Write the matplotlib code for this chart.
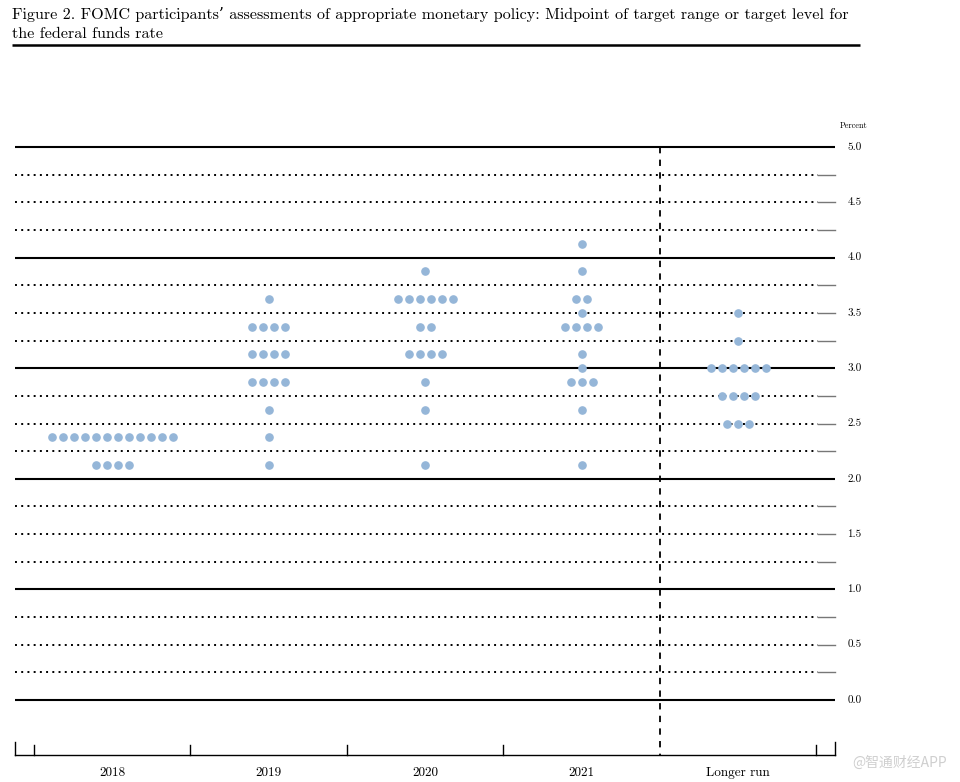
import matplotlib
matplotlib.use("Agg")
import matplotlib.pyplot as plt
import numpy as np

# ---- data ----
categories = ["2018", "2019", "2020", "2021", "Longer run"]
rates_2018 = [2.375] * 12 + [2.125] * 4
rates_2019 = [3.625] + [3.375] * 4 + [3.125] * 4 + [2.875] * 4 + [2.625, 2.375, 2.125]
rates_2020 = [3.875] + [3.625] * 6 + [3.375] * 2 + [3.125] * 4 + [2.875, 2.625, 2.125]
rates_2021 = [4.125, 3.875, 3.625, 3.625, 3.5] + [3.375] * 4 + [3.125, 3.0] + [2.875] * 3 + [2.625, 2.125]
rates_longer = [3.5, 3.25] + [3.0] * 6 + [2.75] * 4 + [2.5] * 3
y_ticks = [0.0, 0.5, 1.0, 1.5, 2.0, 2.5, 3.0, 3.5, 4.0, 4.5, 5.0]
title = ("Figure 2. FOMC participants\u2019 assessments of appropriate monetary policy: "
         "Midpoint of target range or target level for\nthe federal funds rate")

all_rates = [rates_2018, rates_2019, rates_2020, rates_2021, rates_longer]

W, H = 960, 782
fig = plt.figure(figsize=(W / 100, H / 100), dpi=100)
ax = fig.add_axes([0, 0, 1, 1])
ax.set_axis_off()

px_per_cat = 156.5
px_per_pct = 110.6
cat0_px = 112.0
y0_px = 700.0
ax.set_xlim(-cat0_px / px_per_cat, (W - cat0_px) / px_per_cat)
ax.set_ylim(-(H - y0_px) / px_per_pct, y0_px / px_per_pct)

left = -0.62
right = 4.62
line_end = 4.51
serif = ["cmr10", "DejaVu Serif"]

for v in np.arange(0, 5.01, 0.25):
    if abs(v - round(v)) < 1e-9:
        ax.plot([left, right], [v, v], color="black", lw=1.5, solid_capstyle="butt", zorder=1)
    else:
        ax.plot([left, line_end], [v, v], color="black", lw=1.4,
                linestyle=(0, (1, 2.2)), zorder=1)
        ax.plot([line_end, right], [v, v], color="#777777", lw=1.0, zorder=1)

for v in y_ticks:
    ax.text(right + 0.08, v, f"{v:.1f}", fontsize=8, family=serif,
            va="center", ha="left")
ax.text(right + 0.12, 5.0 + 21 / px_per_pct, "Percent", fontsize=6, family=serif,
        va="center", ha="center")

bottom_y = -55 / px_per_pct
ax.plot([3.5, 3.5], [5.0, bottom_y], color="black", lw=1.3,
        linestyle=(0, (3.5, 3.5)), zorder=1)

ax.plot([left, right], [bottom_y, bottom_y], color="black", lw=1.0)
for xt in [left, right]:
    ax.plot([xt, xt], [bottom_y, bottom_y + 13 / px_per_pct], color="black", lw=1.0)
for xt in [-0.5, 0.5, 1.5, 2.5, 4.5]:
    ax.plot([xt, xt], [bottom_y, bottom_y + 10 / px_per_pct], color="black", lw=1.0)

for i, c in enumerate(categories):
    ax.text(i, bottom_y - 18 / px_per_pct, c, fontsize=9.5, family=serif,
            ha="center", va="center")

spacing = 11.0 / px_per_cat
for i, rates in enumerate(all_rates):
    vals, counts = np.unique(rates, return_counts=True)
    for v, n in zip(vals, counts):
        xs = i + (np.arange(n) - (n - 1) / 2) * spacing
        ax.plot(xs, [v] * n, linestyle="none", marker="o", markersize=5.2,
                markerfacecolor="#95b6d8", markeredgecolor="#95b6d8", zorder=3)

fig.text(12 / W, 1 - 24 / H, title, fontsize=11.6, family=serif,
         ha="left", va="center", linespacing=1.45)
ax.plot([-cat0_px / px_per_cat + 12 / px_per_cat, -cat0_px / px_per_cat + 860 / px_per_cat],
        [(y0_px - 45) / px_per_pct] * 2, color="black", lw=1.8, solid_capstyle="butt")

fig.text(900 / W, 1 - 763 / H, "@智通财经APP", fontsize=10, color="#cfcfcf",
         family=["Noto Sans CJK SC", "DejaVu Sans"], ha="center", va="center")

fig.savefig("out.png", dpi=100)
